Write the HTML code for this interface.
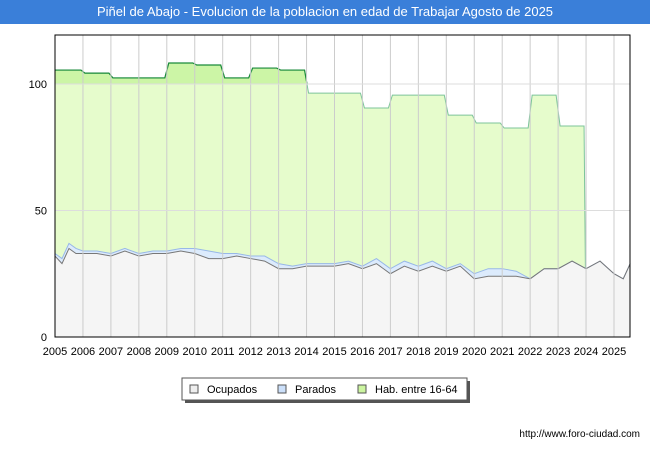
<!DOCTYPE html>
<html><head><meta charset="utf-8"><style>
body{margin:0;background:#fff;font-family:"Liberation Sans",sans-serif}
#wrap{position:relative;width:650px;height:450px;overflow:hidden}
#title{position:absolute;left:0;top:0;width:650px;height:24px;background:#3a7fd9;color:#fff;font-size:13px;line-height:24px;text-align:center}
</style></head><body>
<div id="wrap">
<div id="title">Piñel de Abajo - Evolucion de la poblacion en edad de Trabajar Agosto de 2025</div>
<svg id="svg" width="650" height="450" style="position:absolute;left:0;top:0" font-family="Liberation Sans, sans-serif"></svg>
</div>
<script>
const habYears=[2005,2006,2007,2008,2009,2010,2011,2012,2013,2014,2015,2016,2017,2018,2019,2020,2021,2022,2023];
const habValues=[105.5,104.3,102.4,102.4,108.3,107.5,102.4,106.3,105.5,96.4,96.4,90.5,95.6,95.6,87.7,84.6,82.6,95.6,83.4];
const monthX=[2005,2005.25,2005.5,2005.75,2006,2006.5,2007,2007.5,2008,2008.5,2009,2009.5,2010,2010.5,2011,2011.5,2012,2012.5,2013,2013.5,2014,2014.5,2015,2015.5,2016,2016.5,2017,2017.5,2018,2018.5,2019,2019.5,2020,2020.5,2021,2021.5,2022,2022.5,2023,2023.5,2024,2024.5,2025,2025.33,2025.58];
const ocupados=[32,29,35,33,33,33,32,34,32,33,33,34,33,31,31,32,31,30,27,27,28,28,28,29,27,29,25,28,26,28,26,28,23,24,24,24,23,27,27,30,27,30,25,23,29];
const parados=[1,2,2,2,1,1,1,1,1,1,1,1,2,3,2,1,1,2,2,1,1,1,1,1,1,2,2,2,2,2,1,1,2,3,3,2,0,0,0,0,0,0,0,0,0];
const yTicks=[0,50,100];
const xTicks=[2005,2006,2007,2008,2009,2010,2011,2012,2013,2014,2015,2016,2017,2018,2019,2020,2021,2022,2023,2024,2025];
const L=55,R=630,T=35,B=337;
const xs=v=>L+(v-2005)*(614-55)/20;
const ys=v=>B-v*(B-84)/100;
const svg=document.getElementById('svg');const NS='http://www.w3.org/2000/svg';
function mk(t,a,p){const e=document.createElementNS(NS,t);for(const k in a)e.setAttribute(k,a[k]);(p||svg).appendChild(e);return e;}
const bg=mk('rect',{x:L,y:T,width:R-L,height:B-T,fill:'#fff'});


// hab polygon
let hp=[];habYears.forEach((y,i)=>{const x0=xs(y),x1=xs(y+1)-2;const v=ys(habValues[i]);hp.push([x0+(i?2:0),v],[x1,v]);});
const end=xs(2024);
let d='M'+L+','+B+' L'+hp.map(p=>p.join(',')).join(' L')+' L'+end+','+B+' Z';
const ha=mk('path',{d:d,fill:'#e6fccc'});


mk('clipPath',{id:'above'});document.getElementById('above').appendChild(document.createElementNS(NS,'rect'));
const cr=document.querySelector('#above rect');cr.setAttribute('x',L);cr.setAttribute('y',T);cr.setAttribute('width',R-L);cr.setAttribute('height',ys(100)-T);
const hd=mk('path',{d:d,fill:'#ccf5a6','clip-path':'url(#above)'});


const hl=mk('polyline',{points:hp.map(p=>p.join(',')).join(' ')+' '+end+','+B,fill:'none',stroke:'#7cc49a','stroke-width':1});


const hl2=mk('polyline',{points:hp.map(p=>p.join(',')).join(' '),fill:'none',stroke:'#1a8a3a','stroke-width':1.2,'clip-path':'url(#above)'});


// parados + ocupados
const tot=ocupados.map((o,i)=>o+parados[i]);
const pTop=monthX.map((x,i)=>xs(x)+','+ys(tot[i])).join(' ');
const oTop=monthX.map((x,i)=>xs(x)+','+ys(ocupados[i])).join(' ');
const pa=mk('polygon',{points:pTop+' '+monthX.slice().reverse().map((x,j)=>xs(x)+','+ys(ocupados[monthX.length-1-j])).join(' '),fill:'#dcebfc'});


const oa=mk('polygon',{points:xs(monthX[0])+','+B+' '+oTop+' '+xs(monthX[monthX.length-1])+','+B,fill:'#f5f5f5'});


const pl=mk('polyline',{points:pTop,fill:'none',stroke:'#98b8e8','stroke-width':1});


const ol=mk('polyline',{points:oTop,fill:'none',stroke:'#777','stroke-width':1});


// grid
xTicks.forEach(t=>{const x=xs(t);const g=mk('line',{x1:x,x2:x,y1:T,y2:B,stroke:'#ccc','stroke-width':1});


const tx=mk('text',{x:x,y:355,'font-size':11,'text-anchor':'middle',fill:'#000'});tx.textContent=t;

});
yTicks.forEach(t=>{const y=ys(t);const g=mk('line',{x1:L,x2:R,y1:y,y2:y,stroke:'#ddd','stroke-width':1});


const tx=mk('text',{x:47,y:y+4,'font-size':11,'text-anchor':'end',fill:'#000'});tx.textContent=t;

});
const fr=mk('rect',{x:L,y:T,width:R-L,height:B-T,fill:'none',stroke:'#000','stroke-width':1});


// legend
const lg=mk('g',{});


mk('rect',{x:185,y:381,width:285,height:22,fill:'#555'},lg);
mk('rect',{x:182,y:378,width:285,height:22,fill:'#fff',stroke:'#555'},lg);
[['Ocupados','#eeeeee',190],['Parados','#cce0fa',278],['Hab. entre 16-64','#ccf5a0',358]].forEach(([n,c,x])=>{
const g=mk('g',{},lg);


mk('rect',{x:x,y:385,width:8,height:8,fill:c,stroke:'#555'},g);
const t=mk('text',{x:x+17,y:393,'font-size':11,fill:'#000'},g);t.textContent=n;});
const u=mk('text',{x:640,y:437,'font-size':10,'text-anchor':'end',fill:'#000'});u.textContent='http://www.foro-ciudad.com';


</script>
</body></html>
